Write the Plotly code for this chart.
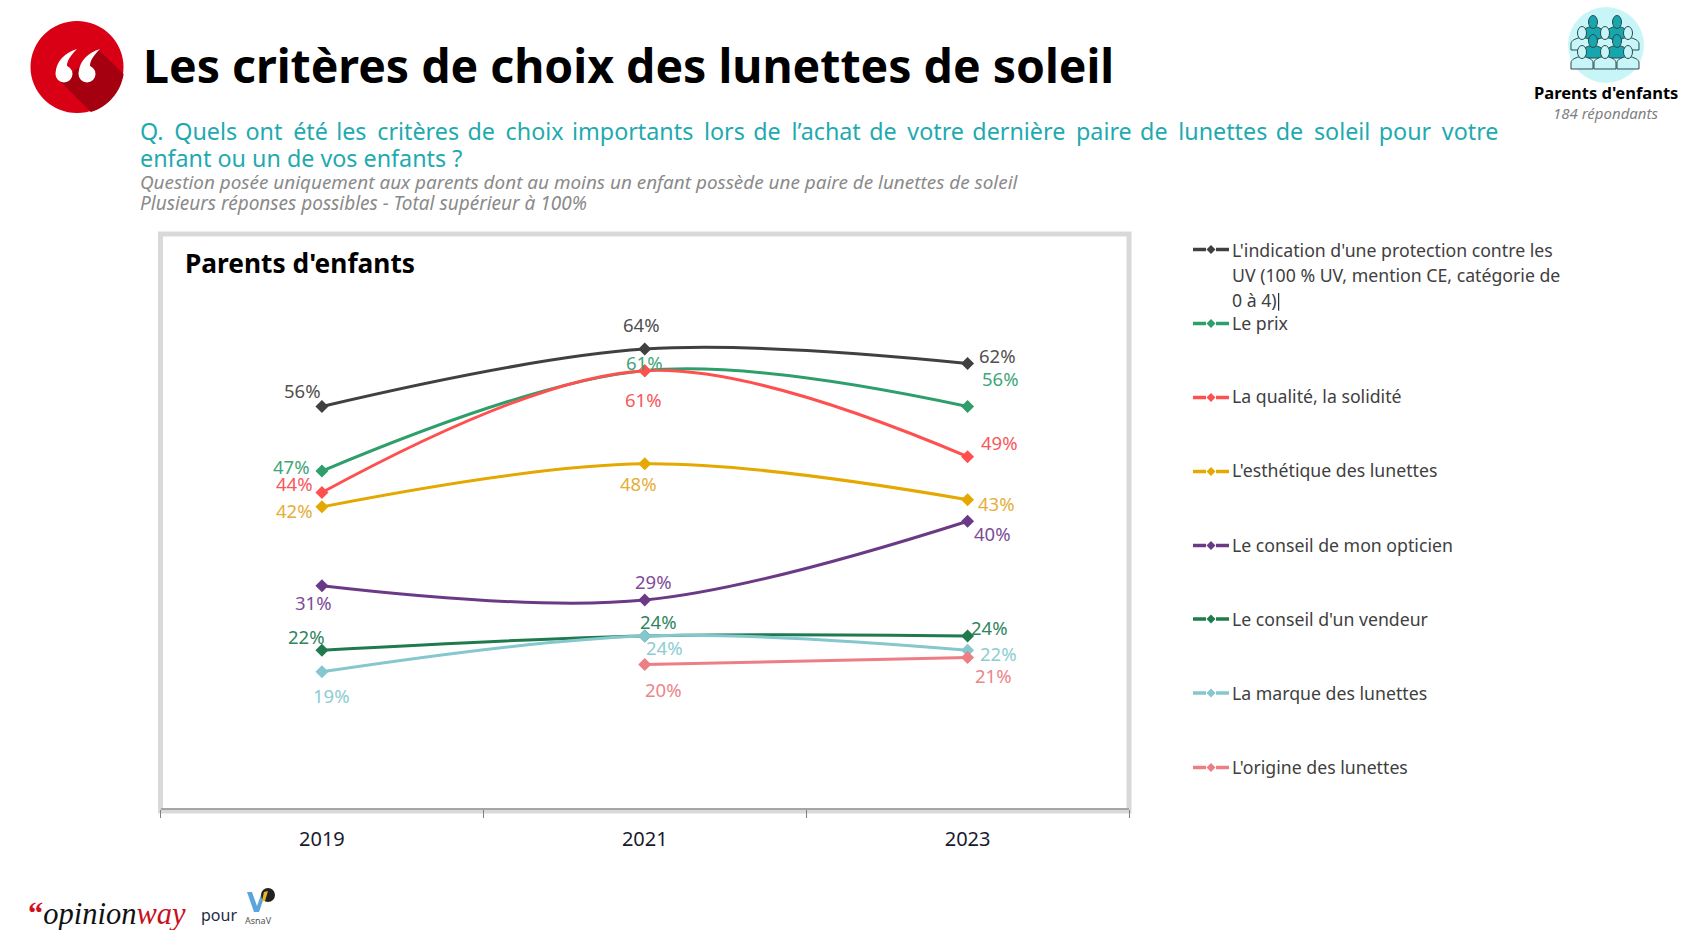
import plotly.graph_objects as go

W, H = 1686, 930
FONT = "Noto Sans"

years = ["2019", "2021", "2023"]
series_names = [
    "L'indication d'une protection contre les<br>UV (100 % UV, mention CE, catégorie de<br>0 à 4)",
    "Le prix",
    "La qualité, la solidité",
    "L'esthétique des lunettes",
    "Le conseil de mon opticien",
    "Le conseil d'un vendeur",
    "La marque des lunettes",
    "L'origine des lunettes",
]
uv = [56, 64, 62]
prix = [47, 61, 56]
qualite = [44, 61, 49]
esthetique = [42, 48, 43]
opticien = [31, 29, 40]
vendeur = [22, 24, 24]
marque = [19, 24, 22]
origine = [None, 20, 21]
series_values = [uv, prix, qualite, esthetique, opticien, vendeur, marque, origine]

line_colors = ["#404040", "#2E9E6B", "#FF5050", "#E5A800", "#6B3A87", "#1F7A4D", "#84C7CD", "#EC7F84"]
label_colors = ["#505050", "#3FA678", "#F8585C", "#E5AE3A", "#7D4C98", "#2F8560", "#8CCDD2", "#EC8589"]

# label offsets in pixels, (dx, dy-up), one per point
label_offsets = [
    [(-19, 16), (-3, 25), (30, 8)],
    [(-30, 5), (0, 8), (33, 28)],
    [(-27, 9), (-1, -29), (32, 14)],
    [(-27, -4), (-6, -20), (29, -4)],
    [(-8, -17), (9, 19), (25, -12)],
    [(-15, 14), (14, 14), (22, 8)],
    [(10, -24), (20, -12), (31, -3)],
    [None, (19, -25), (26, -18)],
]

def fx(x):
    return x / W

def fy(y):
    return 1 - y / H

def path(cmds):
    out = []
    for c in cmds:
        if isinstance(c, str):
            out.append(c)
        else:
            out.append(f"{fx(c[0]):.5f},{fy(c[1]):.5f}")
    return " ".join(out)

shapes = []
annotations = []

def text(x, y, s, size, color="#000", bold=False, italic=False, anchor="left", family=FONT, va="middle"):
    t = s
    if bold:
        t = f"<b>{t}</b>"
    if italic:
        t = f"<i>{t}</i>"
    annotations.append(dict(x=fx(x), y=fy(y), xref="paper", yref="paper", text=t, showarrow=False,
                            xanchor=anchor, yanchor=va, align=anchor if anchor != "center" else "center",
                            font=dict(size=size, color=color, family=family), borderpad=0))

def poly(cmds, fill, line=None, lw=0, layer="above"):
    shapes.append(dict(type="path", xref="paper", yref="paper", path=path(cmds), fillcolor=fill,
                       line=dict(color=line or fill, width=lw), layer=layer))

def ellipse(cx, cy, rx, ry, fill, line=None, lw=0, layer="above"):
    shapes.append(dict(type="circle", xref="paper", yref="paper", x0=fx(cx - rx), x1=fx(cx + rx),
                       y0=fy(cy + ry), y1=fy(cy - ry), fillcolor=fill, line=dict(color=line or fill, width=lw), layer=layer))

def seg(x0, y0, x1, y1, color, lw):
    shapes.append(dict(type="line", xref="paper", yref="paper", x0=fx(x0), x1=fx(x1), y0=fy(y0), y1=fy(y1),
                       line=dict(color=color, width=lw), layer="above"))

# chart frame
shapes.append(dict(type="rect", xref="paper", yref="paper", x0=fx(160.5), x1=fx(1129), y0=fy(811), y1=fy(234),
                   fillcolor="rgba(0,0,0,0)", line=dict(color="#D9D9D9", width=5), layer="below"))

# red quote logo
ellipse(77, 67, 46.5, 46, "#D90016")
poly(["M", (99, 50), "L", (123.6, 74), "C", (121, 92), (108, 107), (90.7, 112), "L", (61, 82), "Z"], "#A4000F")
for dx in (0, 23):
    ellipse(64 + dx, 74, 8.5, 8.5, "#FFFFFF")
    poly(["M", (56 + dx, 74), "C", (55 + dx, 62), (66 + dx, 52), (77 + dx, 49),
          "C", (70 + dx, 56), (67 + dx, 61), (67 + dx, 66), "Z"], "#FFFFFF")

# audience icon
ellipse(1606, 45, 38, 38, "#C8F6F8")

def person(cx, top, fill):
    poly(["M", (cx - 11, top + 19), "L", (cx - 11, top + 13), "C", (cx - 11, top + 9), (cx - 6, top + 8), (cx - 4, top + 7),
          "L", (cx + 4, top + 7), "C", (cx + 6, top + 8), (cx + 11, top + 9), (cx + 11, top + 13), "L", (cx + 11, top + 19), "Z"],
         fill, "#2B4A4E", 1)
    ellipse(cx, top + 2, 4.5, 6.5, fill, "#2B4A4E", 1)

for cx in (1593, 1617):
    person(cx, 20, "#17A6AD")
for cx in (1582, 1605, 1628):
    person(cx, 31, "#C8F6F8")
for cx in (1593, 1617):
    person(cx, 39, "#17A6AD")
for cx in (1582, 1605, 1628):
    person(cx, 50, "#C8F6F8")
text(1606, 93, "Parents d'enfants", 16.5, "#000", bold=True, anchor="center")
text(1606, 113, "184 répondants", 15, "#7F7F7F", italic=True, anchor="center")

# headings
text(142, 65, "Les critères de choix des lunettes de soleil", 46.4, "#000", bold=True)
question_words = "Q. Quels ont été les critères de choix importants lors de l’achat de votre dernière paire de lunettes de soleil pour votre".split(" ")
question_line = ""
for i, word in enumerate(question_words):
    question_line += word
    if i < len(question_words) - 1:
        question_line += "\u00a0\u200a\u200a" if i % 2 == 0 else "\u00a0\u200a"
text(139, 131, question_line, 23.3, "#1FAAB0")
text(139, 158, "enfant ou un de vos enfants ?", 23.3, "#1FAAB0")
text(139, 182, "Question posée uniquement aux parents dont au moins un enfant possède une paire de lunettes de soleil", 18.9, "#8A8A8A", italic=True)
text(139, 203, "Plusieurs réponses possibles - Total supérieur à 100%", 19, "#8A8A8A", italic=True)
text(184, 263, "Parents d'enfants", 26.3, "#000", bold=True)

# legend, hand placed because the spacing is fixed
legend_y = [249.5, 323.5, 397.5, 471.5, 545.5, 619, 693, 767.5]
legend_text_y = [249.5, 323, 396.5, 470.5, 544.5, 619, 693, 767]
for i, name in enumerate(series_names):
    y = legend_y[i]
    c = line_colors[i]
    seg(1193, y, 1206, y, c, 3.5)
    seg(1216, y, 1229, y, c, 3.5)
    poly(["M", (1211, y - 4.5), "L", (1215.5, y), "L", (1211, y + 4.5), "L", (1206.5, y), "Z"], c)
    for k, part in enumerate(name.split("<br>")):
        text(1231, legend_text_y[i] + 25 * k, part, 17.7, "#404040")
seg(1278.7, 293, 1278.7, 310.7, "#000", 1)

# footer
annotations.append(dict(x=fx(27), y=fy(914), xref="paper", yref="paper", showarrow=False, xanchor="left", yanchor="middle",
                        borderpad=0, text='<b><span style="color:#D0101C">“</span></b><i>opinion<span style="color:#C8101C">way</span></i>',
                        font=dict(size=30.5, color="#111", family="Liberation Serif")))
text(200, 915, "pour", 16, "#1F2A44", anchor="left")
poly(["M", (247, 892), "L", (252, 892), "L", (257, 906), "L", (262, 892), "L", (266, 892), "L", (259, 912), "L", (254, 912), "Z"], "#5AA5DC")
ellipse(268, 895, 7, 7, "#222222")
poly(["M", (264, 892), "L", (268, 891), "L", (265, 901), "L", (262, 901), "Z"], "#F0B429")
text(258, 920, "AsnaV", 9, "#555", anchor="center")

fig = go.Figure()
for name, vals, c in zip(series_names, series_values, line_colors):
    fig.add_trace(go.Scatter(x=years, y=vals, mode="lines+markers", name=name.replace("<br>", " "),
                             line=dict(color=c, width=3, shape="spline", smoothing=1),
                             marker=dict(symbol="diamond", size=10, color=c),
                             showlegend=False, hoverinfo="name+y"))

for vals, offs, c in zip(series_values, label_offsets, label_colors):
    for idx, (v, off) in enumerate(zip(vals, offs)):
        if v is None:
            continue
        annotations.append(dict(x=idx, y=v, xref="x", yref="y", text=f"{v}%", showarrow=False,
                                xshift=off[0], yshift=off[1], font=dict(size=18.5, color=c, family=FONT)))

fig.update_layout(
    width=W, height=H, margin=dict(l=0, r=0, t=0, b=0), autosize=False,
    paper_bgcolor="#FFFFFF", plot_bgcolor="rgba(0,0,0,0)", showlegend=False,
    shapes=shapes, annotations=annotations, font=dict(family=FONT),
    xaxis=dict(domain=[fx(160.5), fx(1129)], type="category", categoryorder="array", categoryarray=years,
               range=[-0.5, 2.5], tickson="boundaries", ticks="outside", ticklen=8, tickwidth=1, tickcolor="#808080",
               showline=True, linecolor="#A6A6A6", linewidth=2, showgrid=False, zeroline=False,
               tickfont=dict(size=20, color="#1A1A2E", family=FONT), ticklabelstandoff=12),
    yaxis=dict(domain=[fy(808), fy(234.4)], range=[0, 80], visible=False, showgrid=False, zeroline=False),
)

fig.write_html("out.html", config=dict(displayModeBar=False), post_script="document.body.style.margin='0';")
